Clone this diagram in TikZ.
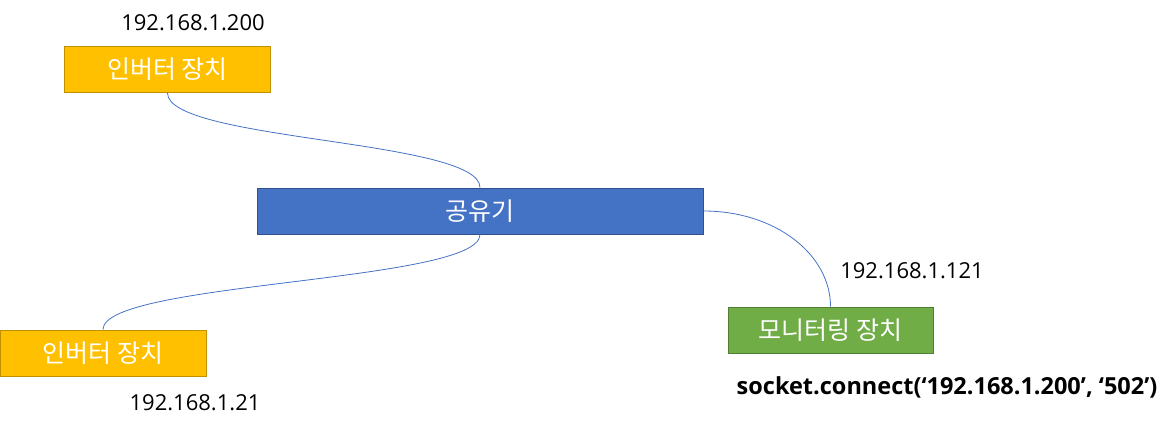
\documentclass[tikz,border=0pt]{standalone}
\usepackage{fontspec}
\setmainfont{Open Sans}
\newfontfamily\kr{Noto Sans CJK KR}
\definecolor{invfill}{HTML}{FFC000}
\definecolor{invdraw}{HTML}{BF9000}
\definecolor{rtfill}{HTML}{4472C4}
\definecolor{rtdraw}{HTML}{2F528F}
\definecolor{monfill}{HTML}{70AD47}
\definecolor{mondraw}{HTML}{507E32}
\definecolor{wire}{HTML}{4472C4}
\tikzset{
  boxbase/.style={line width=1pt, inner sep=0pt, text=white, font=\kr\fontsize{25}{29}\selectfont},
  invbox/.style={boxbase, fill=invfill, draw=invdraw, minimum width=206pt, minimum height=46pt},
  rtbox/.style={boxbase, fill=rtfill, draw=rtdraw, minimum width=446pt, minimum height=46pt},
  monbox/.style={boxbase, fill=monfill, draw=mondraw, minimum width=205pt, minimum height=46pt},
  iplabel/.style={inner sep=0pt, text=black, font=\fontsize{22}{26}\selectfont},
  wirestyle/.style={draw=wire, line width=0.8pt}
}
\begin{document}
\begin{tikzpicture}[x=1pt,y=-1pt]
\useasboundingbox (0,0) rectangle (1176,432);
\node[invbox] (inv1) at (167.5,69.5) {인버터 장치};
\node[rtbox] (router) at (480,211) {공유기};
\node[invbox] (inv2) at (103,353) {인버터 장치};
\node[monbox] (mon) at (830.5,330) {모니터링 장치};
\node[iplabel] (ip1) at (193,23) {192.168.1.200};
\node[iplabel] (ip2) at (195,403) {192.168.1.21};
\node[iplabel] (ip3) at (912,271) {192.168.1.121};
\node[iplabel, font=\bfseries\fontsize{23.5}{27}\selectfont] (sock) at (947,387) {socket.connect(‘192.168.1.200’, ‘502’)};
\draw[wirestyle] (inv1.south) .. controls +(0,48) and +(0,-48) .. (router.north);
\draw[wirestyle] (router.south) .. controls +(0,48) and +(0,-48) .. (inv2.north);
\draw[wirestyle] (router.east) .. controls +(72,0) and +(0,-52) .. (mon.north);
\end{tikzpicture}
\end{document}
